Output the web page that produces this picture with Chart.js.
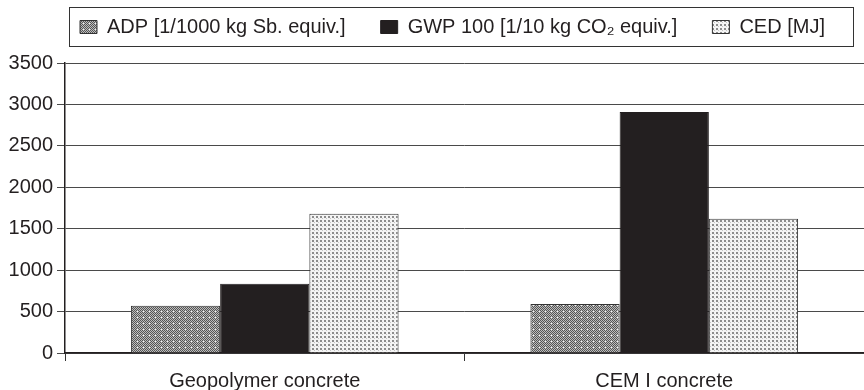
<html>
<head>
    <meta charset="utf-8">
    <script src="https://cdn.jsdelivr.net/npm/chart.js"></script>
    <title>LCA comparison</title>
    <style>
        body { margin: 0; background: #fff; }
        #wrap { width: 864px; height: 390px; }
    </style>
</head>
<body>
    <div id="wrap"><canvas id="myChart"></canvas></div>
    <script>
        // data
        const categories = ["Geopolymer concrete", "CEM I concrete"];
        const adpValues = [570, 590];
        const gwpValues = [835, 2910];
        const cedValues = [1680, 1620];
        const seriesLabels = ["ADP [1/1000 kg Sb. equiv.]", "GWP 100 [1/10 kg CO\u2082 equiv.]", "CED [MJ]"];
        const yTicks = [0, 500, 1000, 1500, 2000, 2500, 3000, 3500];

        const FONT = "Liberation Sans, Arial, sans-serif";

        // fill patterns
        function makePattern(size, draw) {
            const c = document.createElement("canvas");
            c.width = size; c.height = size;
            const g = c.getContext("2d");
            draw(g);
            return g.createPattern(c, "repeat");
        }
        const ctx = document.getElementById("myChart").getContext("2d");
        const adpFill = makePattern(6, function (g) {
            g.fillStyle = "#bdbdbd";
            g.fillRect(0, 0, 6, 6);
            g.fillStyle = "#555";
            for (let y = 0; y < 6; y++) {
                for (let x = 0; x < 6; x++) {
                    if ((x + y) % 2 == 0) g.fillRect(x, y, 1, 1);
                }
            }
            g.fillStyle = "#f0f0f0";
            g.fillRect(5, 5, 1, 1);
        });
        const cedFill = makePattern(4, function (g) {
            g.fillStyle = "#f4f4f4";
            g.fillRect(0, 0, 4, 4);
            g.fillStyle = "#8c8c8c";
            g.fillRect(0, 0, 2, 2);
            g.fillStyle = "#c4c4c4";
            g.fillRect(2, 2, 1, 1);
        });

        // legend sits in a framed box, shifted right like the original
        const legendBorder = {
            id: "legendBorder",
            afterLayout(chart) {
                chart.legend.left = 45;
                chart.legend.top = -18;
                chart.legend.adjustHitBoxes();
            },
            afterDraw(chart) {
                const c = chart.ctx;
                c.save();
                c.strokeStyle = "#333";
                c.lineWidth = 1;
                c.strokeRect(69.5, 7.5, 784, 39);
                c.restore();
            }
        };

        const data = {
            labels: categories,
            datasets: [{
                label: seriesLabels[0],
                data: adpValues,
                backgroundColor: adpFill,
                borderColor: "#333",
                borderWidth: 1,
            }, {
                label: seriesLabels[1],
                data: gwpValues,
                backgroundColor: "#231f20",
                borderColor: "#231f20",
                borderWidth: 1,
            }, {
                label: seriesLabels[2],
                data: cedValues,
                backgroundColor: cedFill,
                borderColor: "#333",
                borderWidth: 1,
            },],
        };

        const config = {
            type: "bar",
            data: data,
            plugins: [legendBorder],
            options: {
                responsive: true,
                maintainAspectRatio: false,
                animation: false,
                layout: { padding: { top: 15, right: 0, left: 0, bottom: -11 } },
                datasets: {
                    bar: { categoryPercentage: 0.67, barPercentage: 1.0 },
                },
                plugins: {
                    tooltip: { enabled: false },
                    legend: {
                        position: "top",
                        align: "start",
                        maxHeight: 48,
                        labels: {
                            color: "#231f20",
                            font: { family: FONT, size: 20 },
                            boxWidth: 17,
                            boxHeight: 13,
                            padding: 35,
                        },
                    },
                },
                scales: {
                    x: {
                        grid: {
                            offset: true,
                            drawOnChartArea: false,
                            color: "#333",
                            tickLength: 8,
                        },
                        border: { color: "#231f20", width: 1.5 },
                        ticks: {
                            color: "#231f20",
                            padding: 8,
                            font: { family: FONT, size: 20 },
                        },
                    },
                    y: {
                        min: 0,
                        max: 3500,
                        afterFit(axis) { axis.width = 65; },
                        afterBuildTicks(axis) { axis.ticks = yTicks.map(v => ({ value: v })); },
                        grid: {
                            color: "#4a4a4a",
                            lineWidth: 1,
                            tickLength: 8,
                        },
                        border: { color: "#231f20", width: 1.5 },
                        ticks: {
                            color: "#231f20",
                            padding: 4,
                            font: { family: FONT, size: 20 },
                            callback: (v) => String(v),
                        },
                    },
                },
            },
        };

        myChart = new Chart(ctx, config);
    </script>
</body>
</html>
